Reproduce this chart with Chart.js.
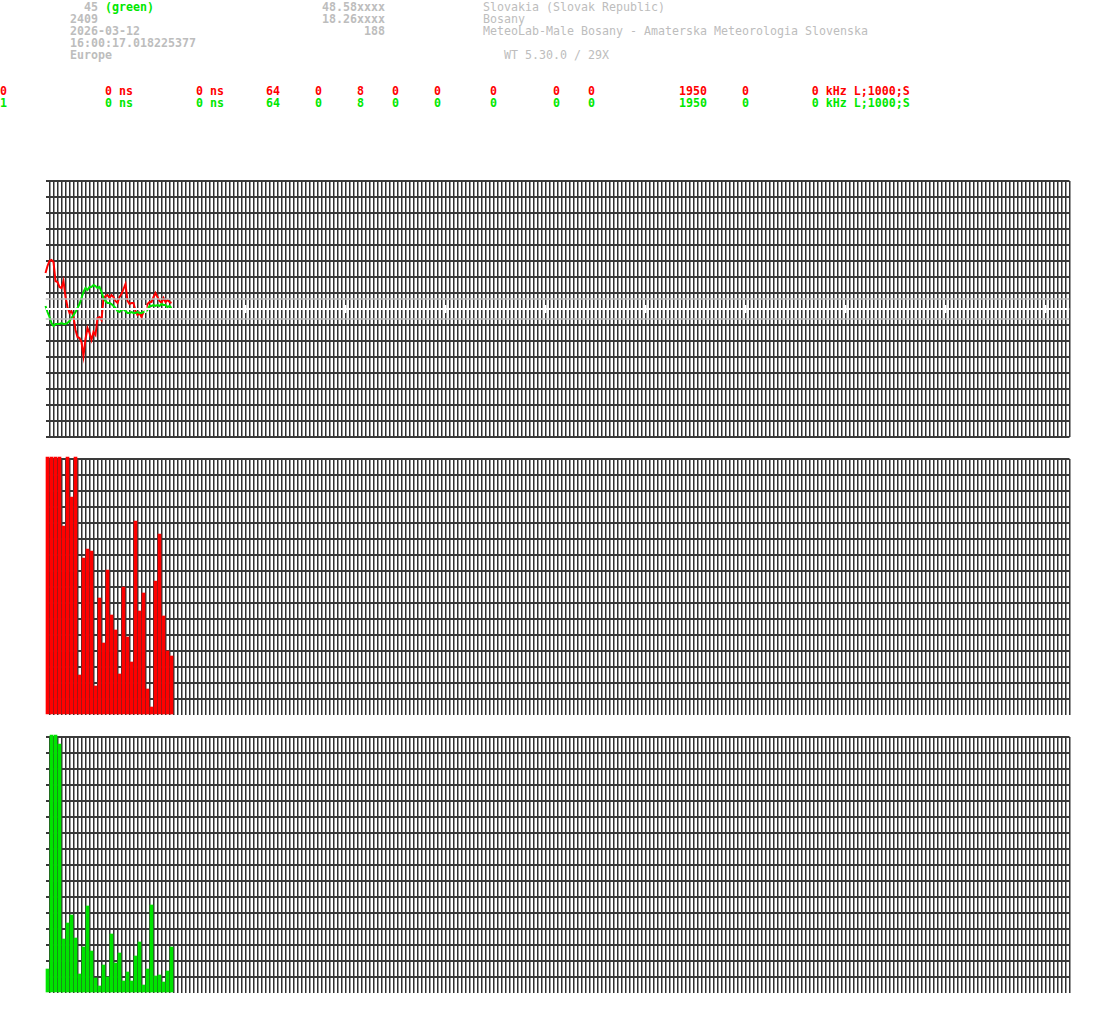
<!DOCTYPE html>
<html><head><meta charset="utf-8">
<script src="https://cdn.jsdelivr.net/npm/chart.js@4.4.1/dist/chart.umd.min.js"></script>
<style>
html,body{margin:0;padding:0;background:#fff;width:1095px;height:1015px;overflow:hidden;}
.t{position:absolute;font-family:"DejaVu Sans Mono",monospace;font-size:11.63px;line-height:12px;white-space:pre;color:#bdbdbd;}
.b{font-weight:bold;}
.red{color:#ff0000;}
.grn{color:#00e800;}
canvas{position:absolute;left:0;}
</style></head><body>
<div class="t b" style="left:70px;top:1px;">  45 <span class="grn">(green)</span>
2409
2026-03-12
16:00:17.018225377
Europe</div>
<div class="t b" style="left:322px;top:1px;width:63px;text-align:right;">48.58xxxx
18.26xxxx
188</div>
<div class="t" style="left:483px;top:1px;">Slovakia (Slovak Republic)
Bosany
MeteoLab-Male Bosany - Amaterska Meteorologia Slovenska

   WT 5.30.0 / 29X</div>
<div class="t b red" style="left:0px;top:85px;">0              0 ns         0 ns      64     0     8    0     0       0        0    0            1950     0         0 kHz L;1000;S</div>
<div class="t b grn" style="left:0px;top:97px;">1              0 ns         0 ns      64     0     8    0     0       0        0    0            1950     0         0 kHz L;1000;S</div>

<canvas id="wave" width="1095" height="280" style="top:170px"></canvas>
<canvas id="barsRed" width="1095" height="275" style="top:450px"></canvas>
<canvas id="barsGreen" width="1095" height="275" style="top:728px"></canvas>

<script>
// ---- data ----
const redWave = [36,43,48,49,47,28,27,22,21,28,12,2,-4,-2,-8,-21,-28,-29,-33,-47,-30,-19,-24,-31,-23,-26,-9,-8,-11,11,13,14,11,14,12,8,6,12,15,20,25,8,5,6,6,-2,-6,-4,-8,-3,-2,5,7,7,12,16,12,8,6,11,7,9,7,6];
const greenWave = [3,-3,-8,-14,-17,-15,-15,-15,-14,-15,-15,-14,-12,-9,-6,-3,1,5,11,17,21,19,22,22,24,23,21,22,17,11,8,6,6,5,3,1,-2,-3,-1,0,-2,-4,-4,-3,-4,-4,-3,-4,-4,-3,-3,-1,3,3,4,3,4,3,5,4,4,2,3,1];
const redBars = [258,258,258,258,189,258,218,258,40,157,166,164,29,117,72,145,100,85,41,128,78,53,194,104,122,26,8,134,181,99,64,59];
const greenBars = [24,258,258,249,54,70,78,55,19,46,87,42,15,7,28,16,59,30,40,12,21,12,37,51,8,24,88,17,18,11,22,46];
const thresholdLevels = [10, -10];
const markerPositions = [25,50,75,100,125,150,175,200,225,250];

// ---- style ----
const RED = '#ff0000', GREEN = '#00e400', GRID_V = '#303030', GRID_H = '#3a3a3a';
const SAMPLE_STEP = 0.5;   // grid columns per wave sample
const BAR_SHIFT = 0.5;     // bar centre inside its grid column

function scales(yMin, yMax, hideZero) {
  return {
    x: {
      type: 'linear', min: 0, max: 256, offset: false,
      ticks: {display: false, stepSize: 1, autoSkip: false},
      grid: {offset: false, lineWidth: 1.5, drawTicks: false,
             color: c => (c.tick && c.tick.value === 0) ? 'rgba(0,0,0,0)' : GRID_V},
      border: {display: false},
      afterFit: s => { s.height = 0; }
    },
    y: {
      type: 'linear', min: yMin, max: yMax,
      ticks: {display: false, stepSize: 16, autoSkip: false},
      grid: {lineWidth: 2, drawTicks: false,
             color: c => (hideZero && c.tick && c.tick.value === 0) ? 'rgba(0,0,0,0)' : GRID_H},
      border: {display: false},
      afterFit: s => { s.width = 0; }
    }
  };
}
const common = {
  responsive: false, animation: false, devicePixelRatio: 1, events: [],
  plugins: {legend: {display: false}, tooltip: {enabled: false}}
};

const wavePts = arr => arr.map((v, i) => ({x: i * SAMPLE_STEP, y: v}));
const barPts = arr => arr.map((v, i) => ({x: i + BAR_SHIFT, y: v}));

new Chart(document.getElementById('wave'), {
  type: 'line',
  data: {datasets: [
    ...thresholdLevels.map(l => ({data: [{x: 0, y: l}, {x: 256, y: l}], borderColor: '#bdbdbd', borderWidth: 1.5, pointRadius: 0})),
    {data: [{x: 0, y: 0}, {x: 256, y: 0}], borderColor: '#ffffff', borderWidth: 2, pointRadius: 0},
    {type: 'scatter', data: markerPositions.map(x => ({x, y: 0})), pointStyle: 'line', rotation: 90,
     pointRadius: 4, borderColor: '#ffffff', borderWidth: 2, showLine: false},
    {data: wavePts(greenWave), borderColor: GREEN, borderWidth: 2, pointRadius: 0, tension: 0, clip: false},
    {data: wavePts(redWave), borderColor: RED, borderWidth: 2, pointRadius: 0, tension: 0, clip: false}
  ]},
  options: Object.assign({}, common, {
    layout: {padding: {left: 45.5, right: 25.5, top: 11, bottom: 13}},
    scales: scales(-128, 128, false)
  })
});

function barChart(id, values, color) {
  new Chart(document.getElementById(id), {
    type: 'bar',
    data: {datasets: [{data: barPts(values), backgroundColor: color, borderWidth: 0,
                       barThickness: 3, clip: false}]},
    options: Object.assign({}, common, {
      layout: {padding: {left: 45.5, right: 25.5, top: 9, bottom: 10}},
      scales: scales(0, 256, true)
    })
  });
}
barChart('barsRed', redBars, RED);
barChart('barsGreen', greenBars, GREEN);
</script>
</body></html>
